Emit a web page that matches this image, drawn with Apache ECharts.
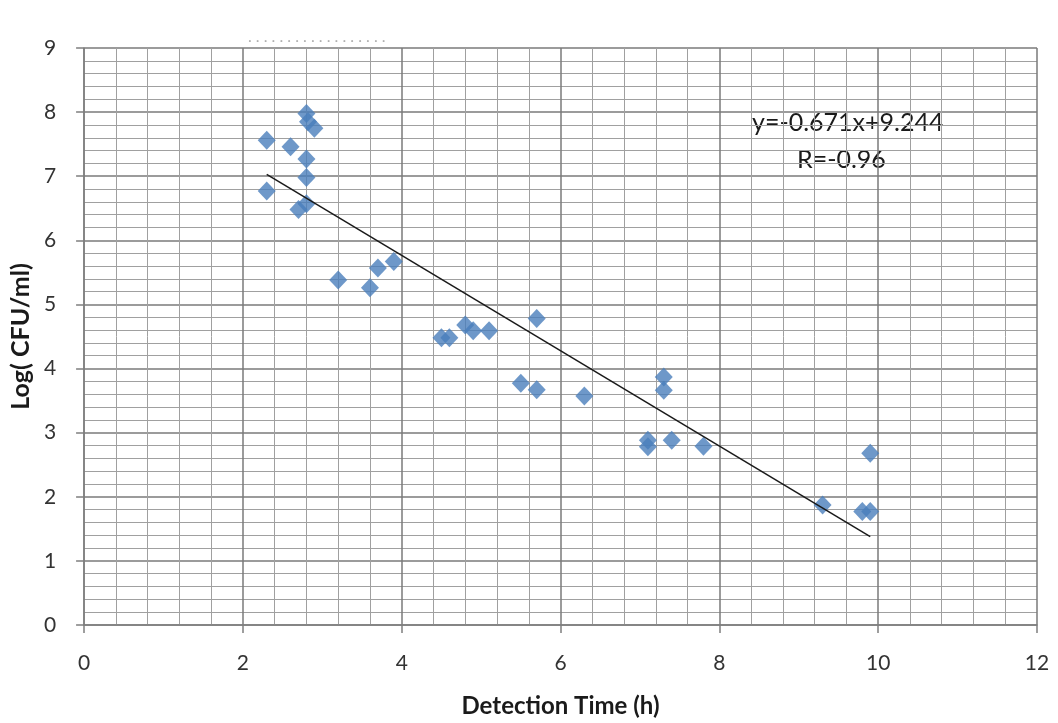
<!DOCTYPE html>
<html>
<head>
<meta charset="utf-8">
<script src="https://cdn.jsdelivr.net/npm/echarts@6/dist/echarts.min.js"></script>
<style>
  html, body { margin: 0; padding: 0; background: #fff; }
  #chart { width: 1058px; height: 723px; }
</style>
</head>
<body>
<div id="chart"></div>
<script>
// detection time (h) vs log(CFU/ml)
const detectionTime = [2.3, 2.3, 2.6, 2.8, 2.82, 2.9, 2.8, 2.8, 2.7, 2.8,
  3.2, 3.6, 3.7, 3.9, 4.5, 4.6, 4.8, 4.9, 5.1, 5.7, 5.5, 5.7, 6.3,
  7.3, 7.3, 7.1, 7.1, 7.4, 7.8, 9.3, 9.8, 9.9, 9.9]
const logCfu = [7.56, 6.77, 7.46, 7.98, 7.85, 7.75, 7.27, 6.98, 6.48, 6.57,
  5.38, 5.26, 5.57, 5.67, 4.48, 4.48, 4.68, 4.59, 4.59, 4.78, 3.77, 3.67, 3.57,
  3.87, 3.66, 2.88, 2.78, 2.88, 2.79, 1.87, 1.77, 1.77, 2.68]

// trend line as drawn on the picture
const trendX = [2.3, 9.9]
const trendY = [7.03, 1.38]

const equationText = "y=-0.671x+9.244"
const rText = "R=-0.96"

const points = detectionTime.map((x, i) => [x, logCfu[i]])
const trend = trendX.map((x, i) => [x, trendY[i]])

const myChart = echarts.init(document.getElementById("chart"))

const labelFont = "Lato, 'Open Sans', sans-serif"

myChart.setOption({
  animation: false,
  title: {
    text: ". . . . . . . . . . . . . . . . . .",
    left: 243,
    top: 24,
    textStyle: { color: "#b0b0b0", fontSize: 16, fontWeight: "normal", fontFamily: labelFont }
  },
  grid: {
    left: 84,
    right: 21,
    top: 48,
    bottom: 97
  },
  xAxis: {
    type: "value",
    min: 0,
    max: 12,
    interval: 2,
    name: "Detection Time (h)",
    nameLocation: "middle",
    nameGap: 69,
    nameTextStyle: { fontSize: 24, fontWeight: "bold", color: "#1a1a1a", fontFamily: labelFont },
    axisLine: { show: true, lineStyle: { color: "#7f7f7f", width: 1.5 } },
    axisTick: { show: true, inside: false, length: 8, lineStyle: { color: "#7f7f7f", width: 1.5 } },
    axisLabel: { fontSize: 21, color: "#333", margin: 28, fontFamily: labelFont },
    splitLine: { show: true, lineStyle: { color: "#7a7a7a", width: 1.5 } },
    minorTick: { show: false, splitNumber: 5 },
    minorSplitLine: { show: true, lineStyle: { color: "#a0a0a0", width: 1 } }
  },
  yAxis: {
    type: "value",
    min: 0,
    max: 9,
    interval: 1,
    name: "Log( CFU/ml)",
    nameLocation: "middle",
    nameGap: 49,
    nameRotate: 90,
    nameTextStyle: { fontSize: 25, fontWeight: "bold", color: "#1a1a1a", fontFamily: labelFont },
    axisLine: { show: true, lineStyle: { color: "#7f7f7f", width: 1.5 } },
    axisTick: { show: true, inside: false, length: 8, lineStyle: { color: "#7f7f7f", width: 1.5 } },
    axisLabel: { fontSize: 21, color: "#333", margin: 28, fontFamily: labelFont },
    splitLine: { show: true, lineStyle: { color: "#7a7a7a", width: 1.5 } },
    minorTick: { show: false, splitNumber: 5 },
    minorSplitLine: { show: true, lineStyle: { color: "#a0a0a0", width: 1 } }
  },
  graphic: [
    {
      type: "text",
      left: 752,
      top: 110,
      style: { text: equationText, fontSize: 25, fill: "#1a1a1a", fontFamily: labelFont }
    },
    {
      type: "text",
      left: 797,
      top: 147,
      style: { text: rText, fontSize: 25, fill: "#1a1a1a", fontFamily: labelFont }
    }
  ],
  series: [
    {
      type: "scatter",
      data: points,
      symbol: "diamond",
      symbolSize: [18, 19],
      itemStyle: { color: "#4a7ebb" },
      z: 3
    },
    {
      type: "line",
      data: trend,
      showSymbol: false,
      symbol: "none",
      lineStyle: { color: "#1a1a1a", width: 1.5 },
      z: 4
    }
  ]
})
</script>
</body>
</html>
